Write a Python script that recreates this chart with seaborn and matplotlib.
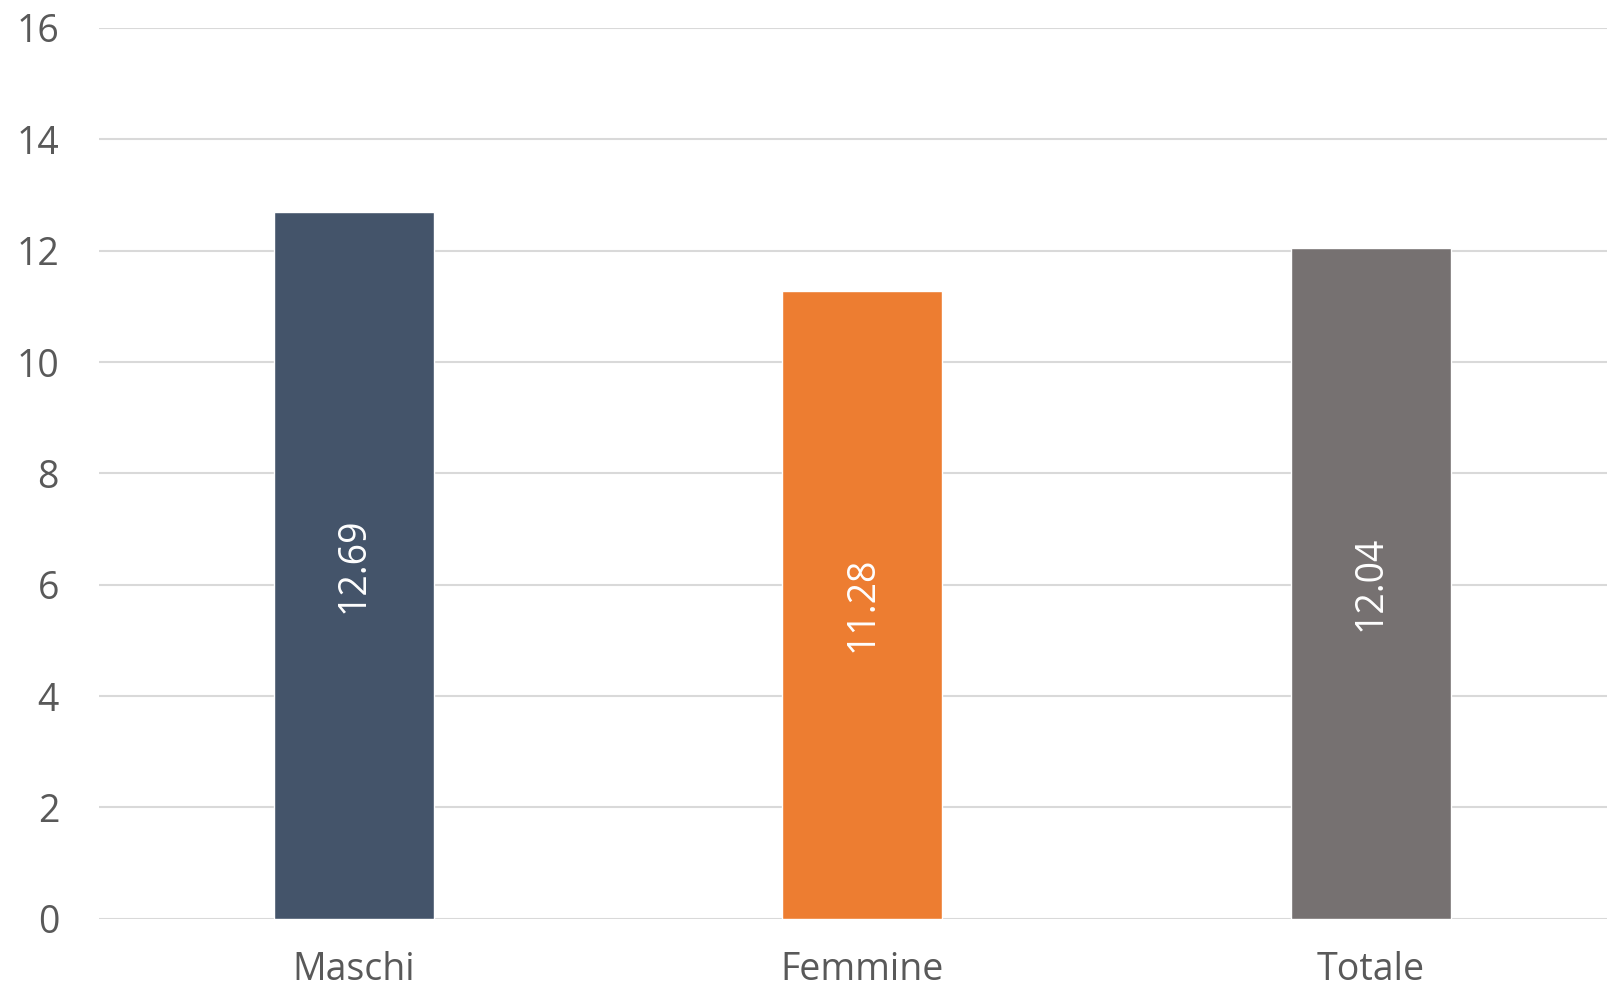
import matplotlib.pyplot as plt
import seaborn as sns
import pandas as pd

categorie = ['Maschi', 'Femmine', 'Totale']
valori = [12.69, 11.28, 12.04]
colori = ['#44546A', '#ED7D31', '#767171']

df = pd.DataFrame({'categoria': categorie, 'valore': valori})

sns.set_theme(style='white')
plt.rcParams['font.family'] = ['Open Sans', 'DejaVu Sans']

fig = plt.figure(figsize=(16.07, 9.89), dpi=100)
ax = fig.add_axes([99.3 / 1607, 70.3 / 989, 1526 / 1607, 890.7 / 989])

sns.barplot(data=df, x='categoria', y='valore', hue='categoria',
            palette=colori, width=0.315, legend=False, ax=ax, saturation=1)

ax.set_ylim(0, 16)
ax.set_xlim(-0.5, 2.5)
ax.set_yticks(range(0, 17, 2))
ax.grid(axis='y', color='#D9D9D9', linewidth=1.5)
ax.set_axisbelow(True)
for s in ax.spines.values():
    s.set_visible(False)
ax.set_xlabel('')
ax.set_ylabel('')
ax.tick_params(axis='y', length=0, pad=29, labelsize=27, labelcolor='#595959')
ax.tick_params(axis='x', length=0, pad=23, labelsize=27, labelcolor='#595959')

for cont in ax.containers:
    for bar in cont:
        h = bar.get_height()
        ax.text(bar.get_x() + bar.get_width() / 2, h / 2, f'{h:.2f}',
                rotation=90, ha='center', va='center', color='white', fontsize=27)

fig.savefig('out.png', dpi=100)
